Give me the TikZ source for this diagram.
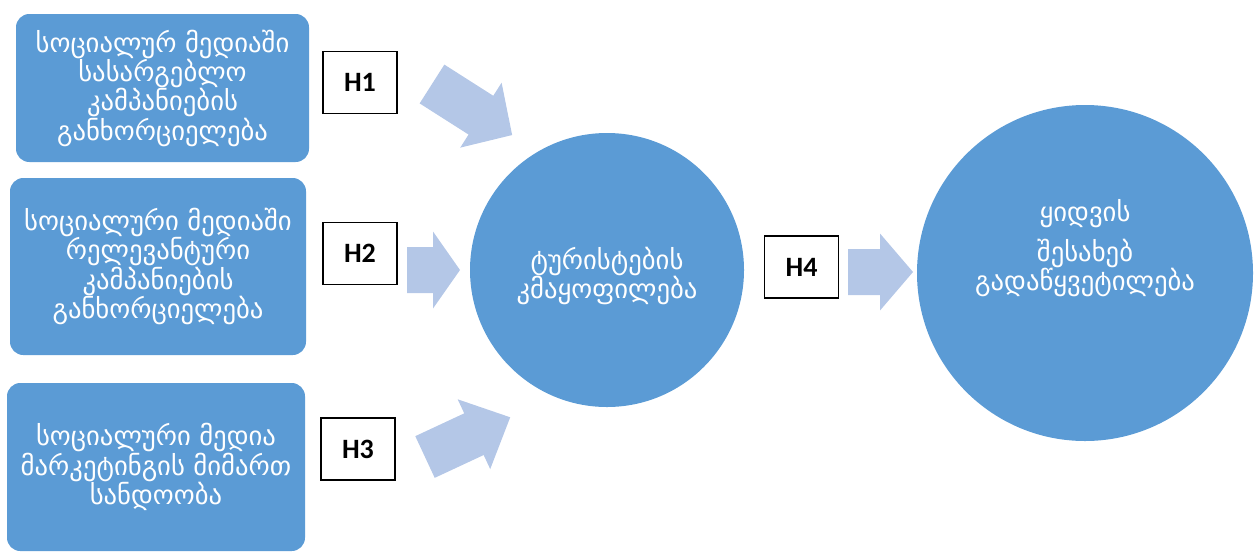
\documentclass[tikz,border=0pt]{standalone}
\usepackage{fontspec}
\setmainfont{DejaVu Sans}
\newfontfamily\hypfont{Carlito}
\usetikzlibrary{positioning}
\definecolor{boxblue}{HTML}{5B9BD5}
\definecolor{arrowblue}{HTML}{B4C7E7}

\begin{document}
\begin{tikzpicture}[x=0.75pt, y=-0.75pt,
    factor/.style={rectangle, rounded corners=10pt, fill=boxblue, text=white, align=center, inner sep=0pt, font=\fontsize{20}{22}\selectfont},
    goal/.style={circle, fill=boxblue, inner sep=0pt},
    goaltext/.style={text=white, align=center, font=\fontsize{20}{22}\selectfont},
    hyp/.style={rectangle, draw=black, line width=1.2pt, fill=white, minimum width=55.5pt, minimum height=46.5pt, font=\hypfont\bfseries\fontsize{21}{24}\selectfont},
    link/.style={fill=arrowblue}]

    \useasboundingbox (0,0) rectangle (1259,551);

    % factors on the left
    \node[factor, minimum width=219.75pt, minimum height=111pt] (F1) at (162.5,88)
        {სოციალურ მედიაში\\სასარგებლო\\კამპანიების\\განხორციელება};
    \node[factor, minimum width=222pt, minimum height=132.75pt] (F2) at (158,266.5)
        {სოციალური მედიაში\\რელევანტური\\კამპანიების\\განხორციელება};
    \node[factor, minimum width=223.5pt, minimum height=126pt] (F3) at (156,467)
        {სოციალური მედია\\მარკეტინგის მიმართ\\სანდოობა};

    % satisfaction and decision
    \node[goal, minimum size=205.5pt] (S) at (607,270) {};
    \node[goaltext] (St) at (607,276) {ტურისტების\\კმაყოფილება};
    \node[goal, minimum size=252pt] (D) at (1085,273) {};
    \node[goaltext] (Dt) at (1085,248) {ყიდვის\\[8pt]შესახებ\\გადაწყვეტილება};

    % hypotheses
    \foreach \n/\x/\y in {1/360/82.5, 2/360/253.5, 3/358/449, 4/801.5/267}{
        \node[hyp] (H\n) at (\x,\y) {H\n};
    }

    % block arrows
    \foreach \ax/\ay/\ang/\len/\hl in {432/84/-32.5/95/37, 407/270/0/53/27, 425/457/25/94/40, 848/272/0/65/33}{
        \fill[link, shift={(\ax,\ay)}, rotate=\ang]
            (0,-23) -- (\len-\hl,-23) -- (\len-\hl,-38.5) -- (\len,0)
            -- (\len-\hl,38.5) -- (\len-\hl,23) -- (0,23) -- cycle;
    }

\end{tikzpicture}
\end{document}
